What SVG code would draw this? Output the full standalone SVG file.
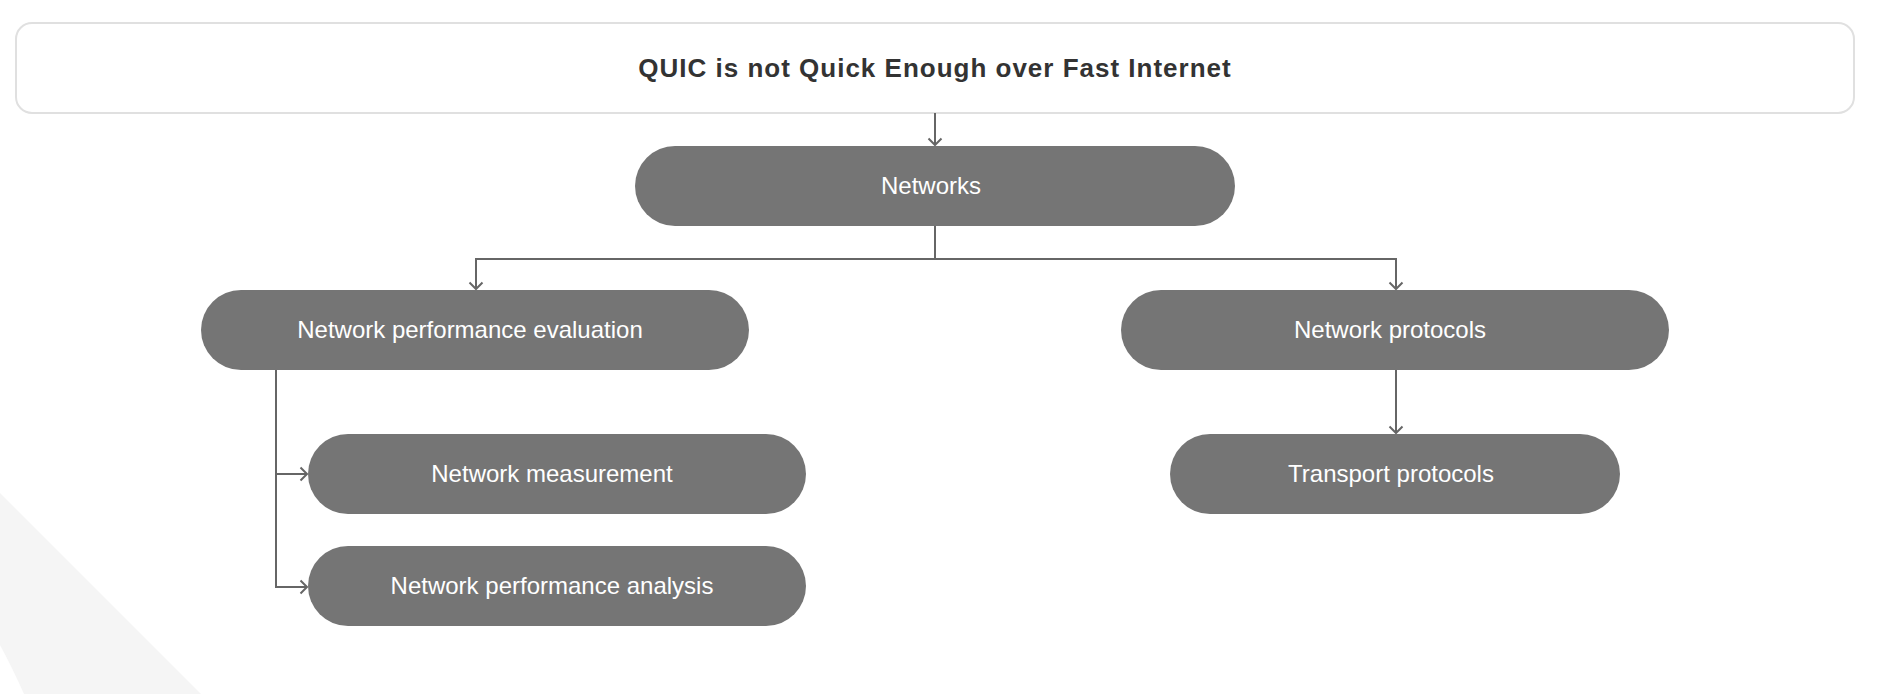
<svg xmlns="http://www.w3.org/2000/svg" width="1880" height="694" viewBox="0 0 1880 694">
  <defs>
    <style>
      .node rect { fill: #757575; }
      .node text { fill: #ffffff; font-family: "Liberation Sans", Arial, sans-serif; font-size: 24px; text-anchor: middle; }
      .title rect { fill: #ffffff; stroke: #e0e0e0; stroke-width: 2; }
      .title text { fill: #333333; font-family: "Liberation Sans", Arial, sans-serif; font-size: 26px; font-weight: bold; letter-spacing: 1px; text-anchor: middle; }
      .conn path { fill: none; stroke: #666666; stroke-width: 2; }
    </style>
    <marker id="arr" markerUnits="userSpaceOnUse" markerWidth="20" markerHeight="20" viewBox="-10 -10 20 20" refX="0" refY="0" orient="auto">
      <path d="M-6.5,-6.5 L0,0 L-6.5,6.5" fill="none" stroke="#666666" stroke-width="2"/>
    </marker>
  </defs>
  <rect width="1880" height="694" fill="#ffffff"/>
  <path d="M0,493 L201,694 L24,694 Q12,667 0,645 Z" fill="#f5f5f5"/>

  <g id="title" class="title">
    <rect x="16" y="23" width="1838" height="90" rx="16" ry="16"/>
    <text x="935" y="77">QUIC is not Quick Enough over Fast Internet</text>
  </g>

  <g id="connectors" class="conn">
    <path d="M935,113 V145" marker-end="url(#arr)"/>
    <path d="M935,226 V259 H476 V289" marker-end="url(#arr)"/>
    <path d="M935,259 H1396 V289" marker-end="url(#arr)"/>
    <path d="M276,370 V474 H307" marker-end="url(#arr)"/>
    <path d="M276,474 V587 H307" marker-end="url(#arr)"/>
    <path d="M1396,370 V433" marker-end="url(#arr)"/>
  </g>

  <g id="n-networks" class="node">
    <rect x="635" y="146" width="600" height="80" rx="40" ry="40"/>
    <text x="931" y="194">Networks</text>
  </g>
  <g id="n-perf-eval" class="node">
    <rect x="201" y="290" width="548" height="80" rx="40" ry="40"/>
    <text x="470" y="338">Network performance evaluation</text>
  </g>
  <g id="n-protocols" class="node">
    <rect x="1121" y="290" width="548" height="80" rx="40" ry="40"/>
    <text x="1390" y="338">Network protocols</text>
  </g>
  <g id="n-measurement" class="node">
    <rect x="308" y="434" width="498" height="80" rx="40" ry="40"/>
    <text x="552" y="482">Network measurement</text>
  </g>
  <g id="n-perf-analysis" class="node">
    <rect x="308" y="546" width="498" height="80" rx="40" ry="40"/>
    <text x="552" y="594">Network performance analysis</text>
  </g>
  <g id="n-transport" class="node">
    <rect x="1170" y="434" width="450" height="80" rx="40" ry="40"/>
    <text x="1391" y="482">Transport protocols</text>
  </g>
</svg>
